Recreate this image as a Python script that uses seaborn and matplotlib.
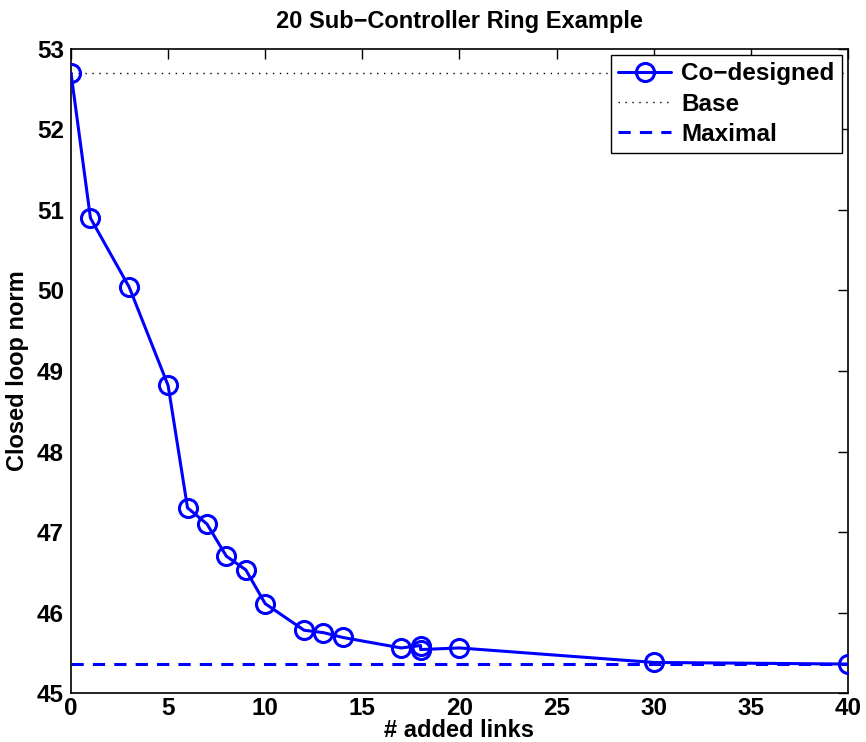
import matplotlib
matplotlib.use("Agg")
import matplotlib.pyplot as plt
import numpy as np
import pandas as pd
import seaborn as sns

# Data
added_links = [0, 1, 3, 5, 6, 7, 8, 9, 10, 12, 13, 14, 17, 18, 18, 20, 30, 40]
closed_loop_norm = [52.70, 50.90, 50.04, 48.82, 47.30, 47.10, 46.70, 46.53,
                    46.11, 45.78, 45.75, 45.69, 45.56, 45.59, 45.54, 45.56,
                    45.38, 45.36]
base_norm = 52.70
maximal_norm = 45.36

x_ticks = [0, 5, 10, 15, 20, 25, 30, 35, 40]
y_ticks = [45, 46, 47, 48, 49, 50, 51, 52, 53]

df = pd.DataFrame({"links": added_links, "norm": closed_loop_norm})

sns.set_theme(style="white")
plt.rcParams["font.family"] = ["Liberation Sans", "DejaVu Sans"]
plt.rcParams["font.weight"] = "bold"
plt.rcParams["axes.labelweight"] = "bold"
plt.rcParams["axes.titleweight"] = "bold"
plt.rcParams["text.color"] = "black"
plt.rcParams["axes.labelcolor"] = "black"

fig = plt.figure(figsize=(8.66, 7.42), dpi=100)
ax = fig.add_axes([0.082, 0.066, 0.897, 0.868])

ax.axhline(base_norm, color="black", linestyle=(0, (1, 4)), linewidth=1.0,
           label="Base")
ax.axhline(maximal_norm, color="blue", linestyle=(0, (4, 3)), linewidth=2.2,
           label="Maximal")
sns.lineplot(data=df, x="links", y="norm", sort=False, estimator=None,
             color="blue", linewidth=2.2, marker="o", markersize=13,
             markerfacecolor="none", markeredgecolor="blue",
             markeredgewidth=2.2, label="Co\u2212designed", ax=ax, zorder=3)

ax.set_xlim(0, 40)
ax.set_ylim(45, 53)
ax.set_xticks(x_ticks)
ax.set_yticks(y_ticks)
ax.tick_params(direction="in", length=7, width=1, top=True, right=True,
               labelsize=17.5, colors="black")
ax.tick_params(axis="x", pad=3)
ax.tick_params(axis="y", pad=5)
for lab in ax.get_xticklabels() + ax.get_yticklabels():
    lab.set_fontweight("bold")
for s in ax.spines.values():
    s.set_color("black")
    s.set_linewidth(1.2)

ax.set_xlabel("# added links", fontsize=17, labelpad=-1)
ax.set_ylabel("Closed loop norm", fontsize=17, labelpad=6)
ax.set_title("20 Sub\u2212Controller Ring Example", fontsize=17, pad=15)

handles, labels = ax.get_legend_handles_labels()
order = [labels.index("Co\u2212designed"), labels.index("Base"), labels.index("Maximal")]
leg = ax.legend([handles[i] for i in order], [labels[i] for i in order],
                loc="upper right", fontsize=17.5, frameon=True, fancybox=False,
                edgecolor="black", framealpha=1, borderaxespad=0.25,
                handlelength=2.2, handletextpad=0.4, labelspacing=0.3,
                borderpad=0.3)
leg.get_frame().set_linewidth(1.0)
for t in leg.get_texts():
    t.set_color("black")

fig.savefig("out.png", dpi=100)
